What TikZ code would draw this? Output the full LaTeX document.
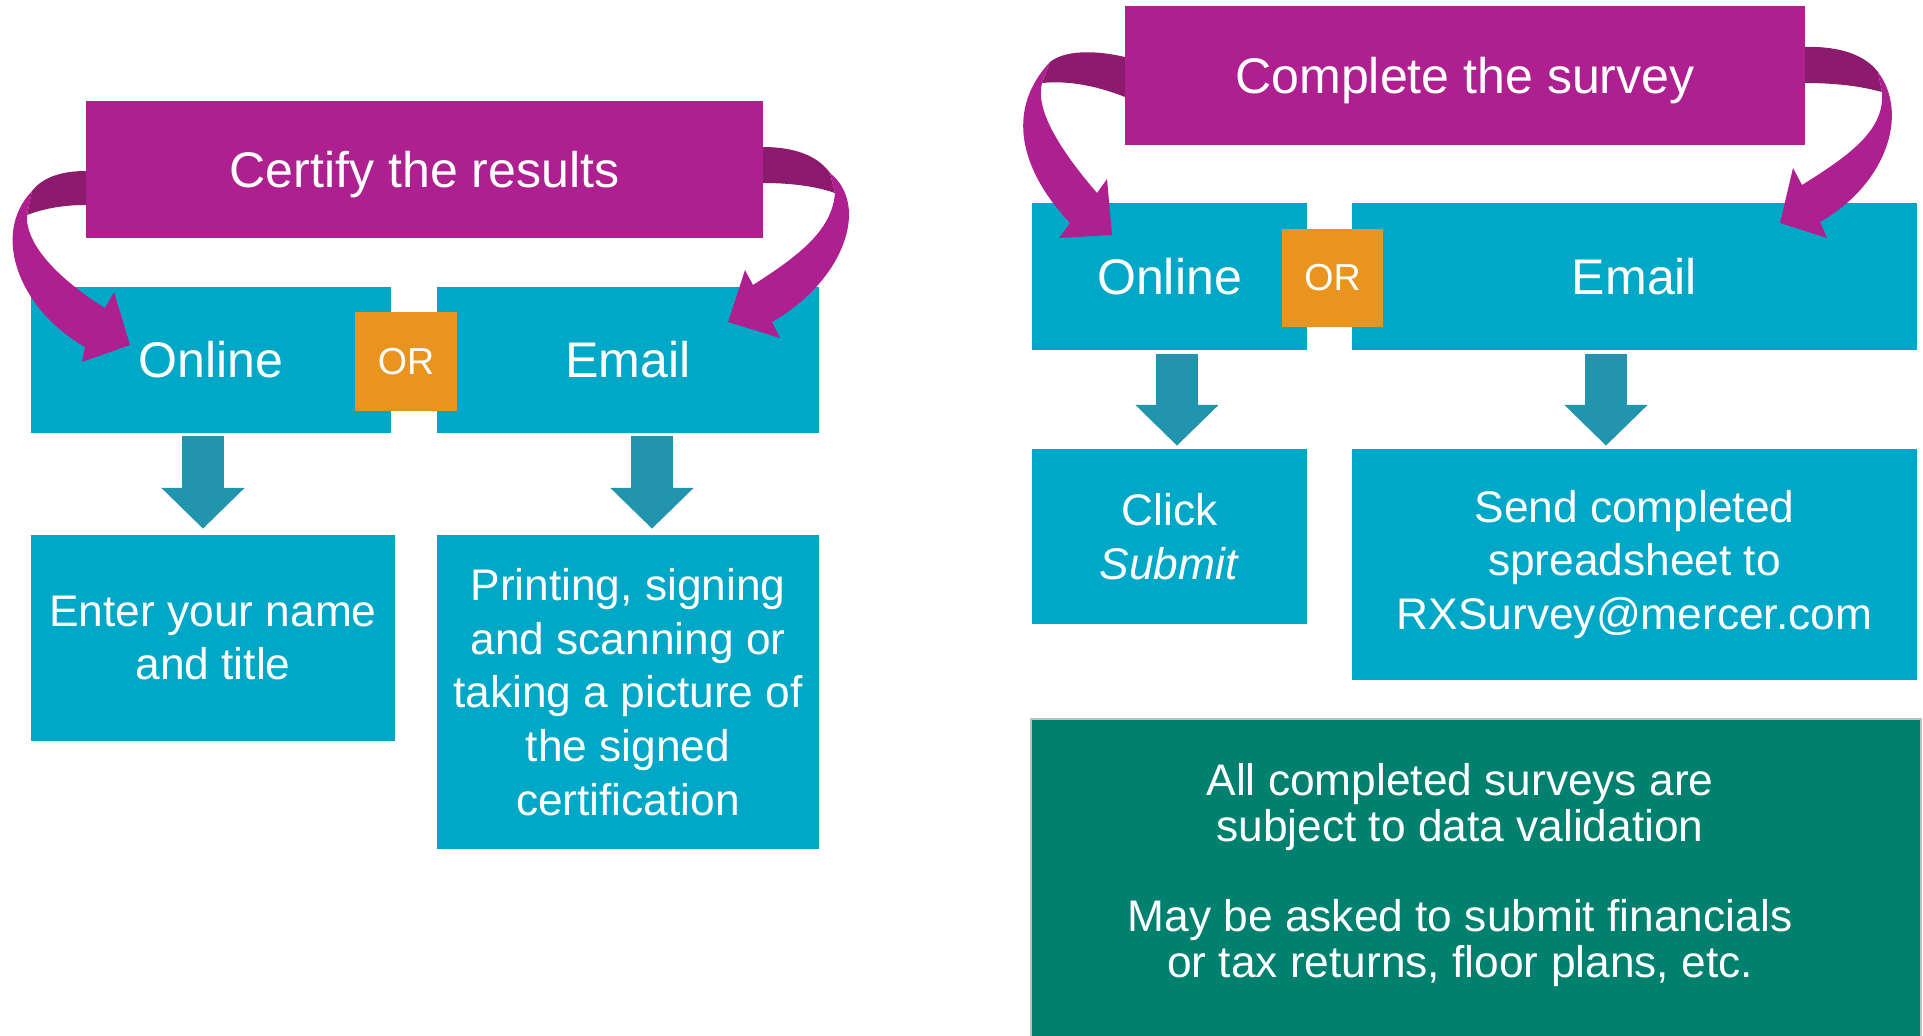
\documentclass[tikz,border=0pt]{standalone}
\usepackage{fontspec}
\setmainfont{Liberation Sans}
\usetikzlibrary{arrows.meta,calc}

\definecolor{plum}{HTML}{AE208F}
\definecolor{plumdark}{HTML}{8C1B6E}
\definecolor{sky}{HTML}{00A8C8}
\definecolor{skydark}{HTML}{2394AE}
\definecolor{amber}{HTML}{E8941E}
\definecolor{pine}{HTML}{00806F}
\definecolor{edgegrey}{HTML}{BFBFBF}

\tikzset{
  headbox/.style={fill=plum, text=white, inner sep=0pt, text depth=0pt, font=\fontsize{28.5pt}{34pt}\selectfont},
  cyanbox/.style={fill=sky, text=white, inner sep=0pt, align=center, font=\fontsize{25.2pt}{30.6pt}\selectfont},
  bigtext/.style={font=\fontsize{28.5pt}{34pt}\selectfont},
  orbox/.style={fill=amber, text=white, inner sep=0pt, minimum width=2.04cm, minimum height=2.0cm, font=\fontsize{21.4pt}{25pt}\selectfont},
  notebox/.style={fill=pine, draw=edgegrey, line width=1.2pt},
  notetext/.style={text=white, inner sep=0pt, align=center, font=\fontsize{25.2pt}{25.8pt}\selectfont},
  downarr/.style={draw=skydark, line width=23.8pt, -{Triangle[length=23.2pt,width=46pt]}}
}

\begin{document}
\begin{tikzpicture}[x=0.02cm, y=-0.02cm]
\useasboundingbox (0,0) rectangle (1923,1035);

% left: certify
\node[headbox, minimum width=13.54cm, minimum height=2.74cm] (cert) at (424.5,169.5) {Certify the results};
\node[cyanbox, bigtext, minimum width=7.2cm, minimum height=2.92cm] (onl1) at (211,360) {Online};
\node[cyanbox, bigtext, minimum width=7.64cm, minimum height=2.92cm] (eml1) at (628,360) {Email};
\node[orbox] (or1) at (406,361.5) {OR};
\node[cyanbox, minimum width=7.28cm, minimum height=4.12cm] (ent) at (213,638) {Enter your name\\and title};
\node[cyanbox, minimum width=7.64cm, minimum height=6.28cm] (prt) at (628,692) {Printing, signing\\and scanning or\\taking a picture of\\the signed\\certification};
\draw[downarr] ($(onl1.south)+(-8,3)$) -- ($(ent.north)+(-10,-6)$);
\draw[downarr] ($(eml1.south)+(24,3)$) -- ($(prt.north)+(24,-6)$);

% right: complete
\node[headbox, minimum width=13.6cm, minimum height=2.78cm] (cmp) at (1465,75.5) {Complete the survey};
\node[cyanbox, bigtext, minimum width=5.5cm, minimum height=2.94cm] (onl2) at (1169.5,276.5) {Online};
\node[cyanbox, bigtext, minimum width=11.3cm, minimum height=2.94cm] (eml2) at (1634.5,276.5) {Email};
\node[orbox, minimum width=2.02cm, minimum height=1.96cm] (or2) at (1332.5,278) {OR};
\node[cyanbox, minimum width=5.5cm, minimum height=3.5cm] (clk) at (1169.5,536.5) {Click\\\textit{Submit}};
\node[cyanbox, minimum width=11.3cm, minimum height=4.62cm] (snd) at (1634.5,564.5) {Send completed\\spreadsheet to\\RXSurvey@mercer.com};
\draw[downarr] ($(onl2.south)+(7.5,4)$) -- ($(clk.north)+(7.5,-3)$);
\draw[downarr] ($(eml2.south)+(-28.5,4)$) -- ($(snd.north)+(-28.5,-3)$);
\node[notebox, minimum width=17.8cm, minimum height=6.52cm] (note) at (1476,882) {};
\node[notetext] (notetxt) at ($(note.center)+(-16,-7)$) {All completed surveys are\\subject to data validation\\[25.8pt]May be asked to submit financials\\or tax returns, floor plans, etc.};

% curved ribbons
\fill[plumdark] (86,171) .. controls (60,171) and (42,178) .. (32,191) -- (27,215) .. controls (45,208) and (65,205) .. (86,205) -- cycle;
\fill[plum] (32,191) .. controls (-10,235) and (20,310) .. (85,347) -- (82,362) -- (130,345) -- (114,292) -- (105,308) .. controls (60,280) and (25,245) .. (27,215) -- cycle;
\fill[plumdark] (763,147) .. controls (795,147) and (818,156) .. (830,173) -- (835,193) .. controls (815,186) and (790,183) .. (763,183) -- cycle;
\fill[plum] (830,173) .. controls (870,205) and (845,280) .. (772,322) -- (780,338) -- (728,322) -- (745,270) -- (753,285) .. controls (800,255) and (832,230) .. (835,193) -- cycle;
\fill[plumdark] (1125,57) .. controls (1095,50) and (1065,50) .. (1050,62) -- (1042,83) .. controls (1070,80) and (1100,87) .. (1125,97) -- cycle;
\fill[plum] (1050,62) .. controls (1005,110) and (1020,170) .. (1070,223) -- (1059,238) -- (1112,235) -- (1107,179) -- (1097,193) .. controls (1060,150) and (1035,110) .. (1042,83) -- cycle;
\fill[plumdark] (1805,47) .. controls (1840,46) and (1865,55) .. (1878,72) -- (1882,92) .. controls (1860,86) and (1835,83) .. (1805,83) -- cycle;
\fill[plum] (1878,72) .. controls (1910,115) and (1885,185) .. (1820,222) -- (1827,238) -- (1780,223) -- (1793,168) -- (1802,185) .. controls (1850,155) and (1885,130) .. (1882,92) -- cycle;
\end{tikzpicture}
\end{document}
